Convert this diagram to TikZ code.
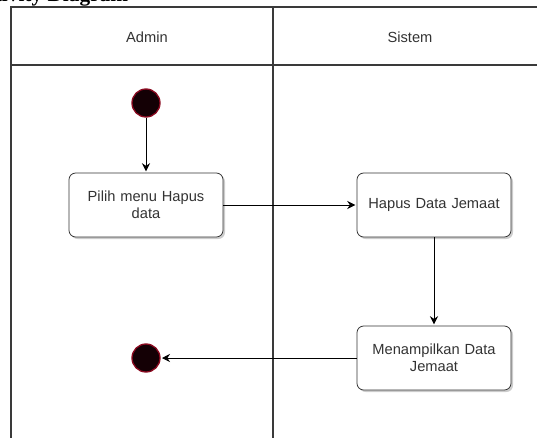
\documentclass[tikz,border=0pt]{standalone}
\usepackage{fontspec}
\setmainfont{Liberation Sans}
\newfontfamily\titlefont{Liberation Serif}
\usetikzlibrary{positioning,shadows,arrows.meta}

\definecolor{laneline}{HTML}{3A3A3A}
\definecolor{boxline}{HTML}{333333}
\definecolor{dottext}{HTML}{333333}
\definecolor{dotfill}{HTML}{140005}
\definecolor{dotline}{HTML}{8A0A20}

\begin{document}
\begin{tikzpicture}[
			> = {Stealth[length=6pt, width=6pt]}, % arrow head style
			shorten > = 1pt, % don't touch arrow head to node
			node distance = 76.5pt, % distance between nodes
			semithick, % line style
			x = 0.75pt, y = -0.75pt, % 1 unit = 1 px of the reference
			font=\fontsize{11}{13}\selectfont
			]
			
			\tikzstyle{lane}=[
			draw = laneline,
			line width = 0.8pt
			]
			
			\tikzstyle{activity}=[
			rectangle,
			rounded corners = 5pt,
			draw = boxline,
			fill = white,
			text = dottext,
			minimum width = 115.5pt,
			minimum height = 48pt,
			text width = 105pt,
			align = center,
			drop shadow = {shadow xshift=1.5pt, shadow yshift=-1.5pt, fill=black!40, opacity=0.5}
			]
			
			\tikzstyle{dot}=[
			circle,
			draw = dotline,
			fill = dotfill,
			line width = 1pt,
			minimum size = 21pt,
			inner sep = 0pt
			]
			
			\useasboundingbox (0,0) rectangle (537,437);
			
			% heading of the page, cut by the border
			\node[font=\titlefont\bfseries\fontsize{16}{18}\selectfont, anchor=base east] (title) at (133,1.5) {Activity Diagram};
			
			% swimlanes
			\draw[lane] (548,7) -- (11,7) -- (11,445);
			\draw[lane] (11,65) -- (548,65);
			\draw[lane] (273,7) -- (273,445);
			\node[text=dottext] (admin) at (147,37) {Admin};
			\node[text=dottext] (sistem) at (410,37) {Sistem};
			
			\node[dot] (start) at (146,103) {};
			\node[activity] (pilih) [below of=start] {Pilih menu Hapus\\data};
			\node[activity] (hapus) [right of=pilih, node distance=216pt] {Hapus Data Jemaat};
			\node[activity] (tampil) [below of=hapus, node distance=114.75pt] {Menampilkan Data\\Jemaat};
			\node[dot] (end) [left of=tampil, node distance=216pt] {};
			
			\path[->] 	
			(start) 	edge (pilih)
			(pilih) 	edge (hapus)
			(hapus) 	edge (tampil)
			(tampil)	edge (end)
			;
		\end{tikzpicture}
\end{document}
